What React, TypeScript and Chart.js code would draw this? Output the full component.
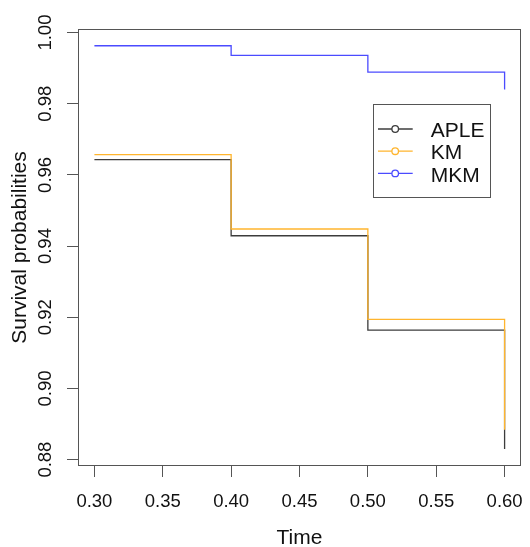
import React, { useEffect, useRef } from "react";
import { Chart, registerables } from "chart.js";

Chart.register(...registerables);

// ---- data ----
const times = [0.3, 0.4, 0.5, 0.6];
const apleSurv = [0.9643, 0.9429, 0.9164, 0.883];
const kmSurv = [0.9657, 0.9448, 0.9194, 0.8884];
const mkmSurv = [0.9963, 0.9936, 0.9889, 0.984];
const xTicks = [0.3, 0.35, 0.4, 0.45, 0.5, 0.55, 0.6];
const yTicks = [0.88, 0.9, 0.92, 0.94, 0.96, 0.98, 1.0];
const seriesNames = ["APLE", "KM", "MKM"];
const seriesColors = ["#3c3c3c", "#ffb52e", "#4b4bff"];
const xLimits = [0.288, 0.612];
const yLimits = [0.8782, 1.001];
const xTitle = "Time";
const yTitle = "Survival probabilities";

const FONT = "'Liberation Sans', Arial, Helvetica, sans-serif";
const TICK_FS = 18.5;
const LAB_FS = 21;

export default function App() {
  const ref = useRef<HTMLCanvasElement>(null);

  useEffect(() => {
    document.body.style.margin = "0";
    const canvas = ref.current;
    if (!canvas) return;

    const series = [apleSurv, kmSurv, mkmSurv];

    const decor = {
      id: "decor",
      afterDraw(chart: any) {
        const { ctx, chartArea: a, scales } = chart;
        ctx.save();
        // frame
        ctx.strokeStyle = "#555";
        ctx.lineWidth = 1;
        ctx.strokeRect(
          Math.round(a.left) + 0.5,
          Math.round(a.top) + 0.5,
          Math.round(a.right - a.left) - 1,
          Math.round(a.bottom - a.top) - 1
        );
        // rotated y tick labels
        ctx.fillStyle = "#111";
        ctx.font = `${TICK_FS}px ${FONT}`;
        const ys = scales.y;
        for (const v of yTicks) {
          const py = ys.getPixelForValue(v);
          ctx.save();
          ctx.translate(a.left - 27, py);
          ctx.rotate(-Math.PI / 2);
          ctx.textAlign = "center";
          ctx.textBaseline = "alphabetic";
          ctx.fillText(v.toFixed(2), 0, 0);
          ctx.restore();
        }
        // legend
        const bl = a.right - 148.3;
        const bt = a.top + 75;
        const bw = 116.6;
        const bh = 92.7;
        ctx.fillStyle = "#fff";
        ctx.fillRect(bl, bt, bw, bh);
        ctx.strokeStyle = "#555";
        ctx.strokeRect(Math.round(bl) + 0.5, Math.round(bt) + 0.5, Math.round(bw), Math.round(bh));
        ctx.font = `${LAB_FS}px ${FONT}`;
        seriesNames.forEach((name, i) => {
          const ry = bt + 25 + i * 22.2;
          ctx.strokeStyle = seriesColors[i];
          ctx.lineWidth = 1.3;
          ctx.beginPath();
          ctx.moveTo(bl + 5.3, ry);
          ctx.lineTo(bl + 40, ry);
          ctx.stroke();
          ctx.beginPath();
          ctx.arc(bl + 22.5, ry, 3.3, 0, Math.PI * 2);
          ctx.fillStyle = "#fff";
          ctx.fill();
          ctx.stroke();
          ctx.fillStyle = "#111";
          ctx.textAlign = "left";
          ctx.textBaseline = "middle";
          ctx.fillText(name, bl + 58, ry + 2.5);
        });
        ctx.restore();
      },
    };

    const chart = new Chart(canvas, {
      type: "line",
      data: {
        datasets: seriesNames.map((name, i) => ({
          label: name,
          data: times.map((t, j) => ({ x: t, y: series[i][j] })),
          borderColor: seriesColors[i],
          backgroundColor: seriesColors[i],
          borderWidth: 1.3,
          pointRadius: 0,
          fill: false,
          stepped: "before" as const,
          order: 3 - i,
        })),
      },
      options: {
        responsive: false,
        animation: false,
        layout: { padding: { left: 0, top: 29, right: 9, bottom: 0 } },
        plugins: { legend: { display: false }, tooltip: { enabled: false } },
        scales: {
          x: {
            type: "linear",
            min: xLimits[0],
            max: xLimits[1],
            afterBuildTicks: (s: any) => {
              s.ticks = xTicks.map((v) => ({ value: v }));
            },
            afterFit: (s: any) => {
              s.height = 81;
              s.paddingLeft = 0;
              s.paddingRight = 0;
            },
            border: { display: false },
            grid: { drawOnChartArea: false, drawTicks: true, tickLength: 11, color: "#555" },
            ticks: {
              autoSkip: false,
              maxRotation: 0,
              minRotation: 0,
              padding: 14,
              color: "#111",
              font: { family: FONT, size: TICK_FS },
              callback: (v: any) => Number(v).toFixed(2),
            },
            title: {
              display: true,
              text: xTitle,
              color: "#111",
              font: { family: FONT, size: LAB_FS, lineHeight: 1 },
              padding: { top: 0, bottom: -1.9 },
            },
          },
          y: {
            type: "linear",
            min: yLimits[0],
            max: yLimits[1],
            afterBuildTicks: (s: any) => {
              s.ticks = yTicks.map((v) => ({ value: v }));
            },
            afterFit: (s: any) => {
              s.width = 78;
              s.paddingTop = 0;
              s.paddingBottom = 0;
            },
            border: { display: false },
            grid: { drawOnChartArea: false, drawTicks: true, tickLength: 11, color: "#555" },
            ticks: { display: false },
            title: {
              display: true,
              text: yTitle,
              color: "#111",
              font: { family: FONT, size: LAB_FS, lineHeight: 1 },
              padding: { top: 10.2, bottom: 0 },
            },
          },
        },
      },
      plugins: [decor],
    });

    return () => chart.destroy();
  }, []);

  return <canvas ref={ref} width={530} height={547} style={{ display: "block" }} />;
}
